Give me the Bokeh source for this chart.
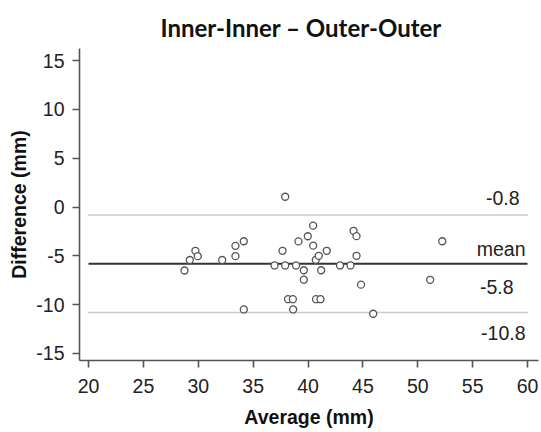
from bokeh.plotting import figure
from bokeh.models import Range1d, FixedTicker, Label
from bokeh.embed import file_html
from bokeh.resources import INLINE

# Bland-Altman data: average (mm) vs difference (mm)
average = [28.75, 29.23, 29.74, 29.96, 32.18, 33.39, 33.39, 34.15, 34.15, 36.95,
           37.68, 37.92, 37.92, 38.18, 38.62, 38.65, 38.91, 39.13, 39.62, 39.62,
           39.98, 40.47, 40.47, 40.71, 40.73, 40.98, 41.14, 41.20, 41.71, 42.92,
           43.87, 44.15, 44.42, 44.42, 44.83, 45.94, 51.13, 52.23]
difference = [-6.50, -5.42, -4.48, -5.03, -5.42, -3.97, -5.03, -3.50, -10.49, -5.98,
              -4.48, 1.06, -5.98, -9.44, -9.44, -10.49, -5.98, -3.52, -6.47, -7.44,
              -2.99, -1.90, -3.95, -5.40, -9.44, -4.99, -9.44, -6.47, -4.48, -5.98,
              -5.98, -2.43, -2.98, -4.99, -7.95, -10.93, -7.45, -3.50]

mean_diff = -5.8
upper_loa = -0.8
lower_loa = -10.8

x_ticks = [20, 25, 30, 35, 40, 45, 50, 55, 60]
y_ticks = [-15, -10, -5, 0, 5, 10, 15]

xr = Range1d(19.18, 61.0)
yr = Range1d(-15.72, 16.25)

p = figure(width=541, height=432, output_backend="svg", toolbar_location=None,
           x_range=xr, y_range=yr,
           min_border_left=79, min_border_right=3, min_border_top=48,
           min_border_bottom=72, title="Inner-Inner \u2013 Outer-Outer")

p.outline_line_color = None
p.grid.visible = False
p.background_fill_color = "white"
p.border_fill_color = "white"

p.title.text_font = "Lato"
p.title.text_font_style = "bold"
p.title.text_font_size = "24px"
p.title.align = "left"
p.title.offset = 81
p.title.standoff = 14
p.title.text_color = "#111111"

for ax in (p.xaxis, p.yaxis):
    ax.axis_line_color = "#555555"
    ax.axis_line_width = 1.6
    ax.major_tick_line_color = "#555555"
    ax.major_tick_line_width = 1.6
    ax.major_tick_out = 7
    ax.major_tick_in = 0
    ax.minor_tick_line_color = None
    ax.major_label_text_font = "Liberation Sans"
    ax.major_label_text_font_size = "19.5px"
    ax.major_label_text_color = "#222222"
    ax.axis_label_text_font = "Liberation Sans"
    ax.axis_label_text_font_style = "bold"
    ax.axis_label_text_font_size = "19.5px"
    ax.axis_label_text_color = "#111111"

p.xaxis.ticker = FixedTicker(ticks=x_ticks)
p.yaxis.ticker = FixedTicker(ticks=y_ticks)
p.xaxis.major_label_overrides = {t: str(t) for t in x_ticks}
p.yaxis.major_label_overrides = {t: str(t) for t in y_ticks}
p.xaxis.axis_label = "Average (mm)"
p.yaxis.axis_label = "Difference (mm)"
p.xaxis.major_label_standoff = 11
p.yaxis.major_label_standoff = 8
p.xaxis.axis_label_standoff = 10
p.yaxis.axis_label_standoff = 3

x_span = [x_ticks[0], x_ticks[-1]]
p.line(x_span, [upper_loa, upper_loa], line_color="#999999", line_width=1.5, line_dash="1 1")
p.line(x_span, [lower_loa, lower_loa], line_color="#999999", line_width=1.5, line_dash="1 1")
p.line(x_span, [mean_diff, mean_diff], line_color="#333333", line_width=2)

p.scatter(average, difference, size=7, fill_color="white", line_color="#555555", line_width=1.3)

lab_kw = dict(text_font="Liberation Sans", text_font_size="19.5px", text_color="#222222",
              text_align="right")
p.add_layout(Label(x=x_ticks[-1], y=upper_loa, text=f"{upper_loa:.1f}", x_offset=-8, y_offset=17,
                   text_baseline="alphabetic", **lab_kw))
p.add_layout(Label(x=x_ticks[-1], y=mean_diff, text="mean", x_offset=-2, y_offset=15,
                   text_baseline="alphabetic", **lab_kw))
p.add_layout(Label(x=x_ticks[-1], y=mean_diff, text=f"{mean_diff:.1f}", x_offset=-14, y_offset=-16,
                   text_baseline="top", **lab_kw))
p.add_layout(Label(x=x_ticks[-1], y=lower_loa, text=f"{lower_loa:.1f}", x_offset=-2, y_offset=-14,
                   text_baseline="top", **lab_kw))

open("out.html", "w").write(file_html(p, INLINE))
